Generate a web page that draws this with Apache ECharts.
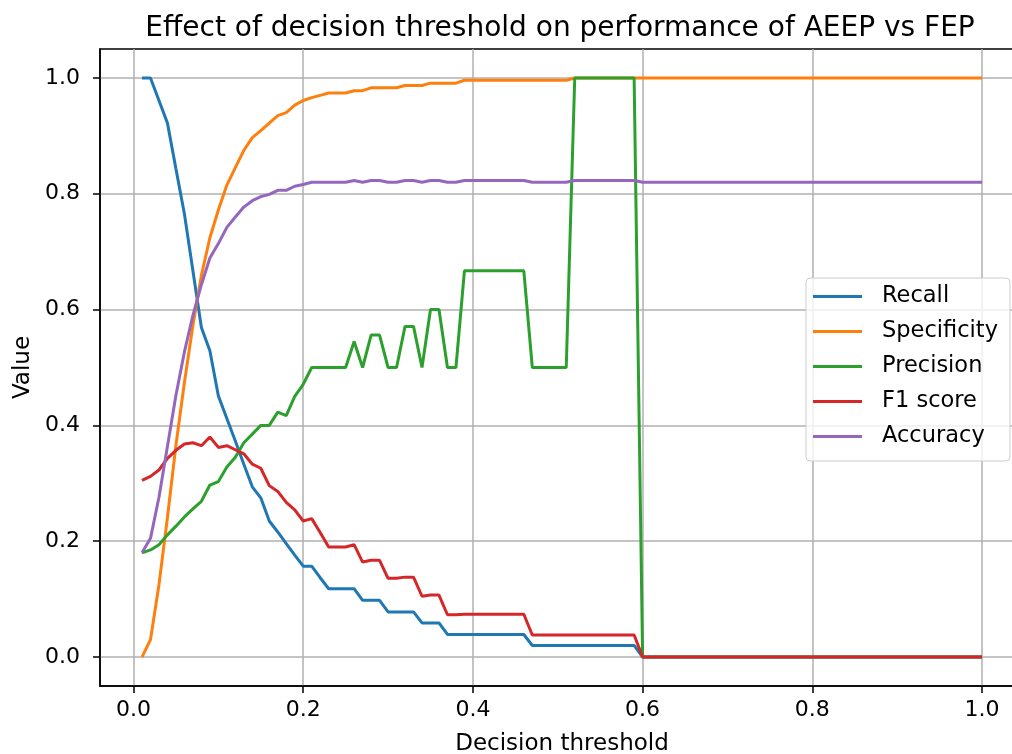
<!DOCTYPE html>
<html>
<head>
<meta charset="utf-8">
<script src="https://cdn.jsdelivr.net/npm/echarts@6/dist/echarts.min.js"></script>
<style>
html,body{margin:0;padding:0;background:#fff;overflow:hidden;}
#chart{width:1012px;height:754px;}
</style>
</head>
<body>
<div id="chart"></div>
<script>
const thresholds = [0.01,0.02,0.03,0.04,0.05,0.06,0.07,0.08,0.09,0.10,
0.11,0.12,0.13,0.14,0.15,0.16,0.17,0.18,0.19,0.20,
0.21,0.22,0.23,0.24,0.25,0.26,0.27,0.28,0.29,0.30,
0.31,0.32,0.33,0.34,0.35,0.36,0.37,0.38,0.39,0.40,
0.41,0.42,0.43,0.44,0.45,0.46,0.47,0.48,0.49,0.50,
0.51,0.52,0.53,0.54,0.55,0.56,0.57,0.58,0.59,0.60,
0.61,0.62,0.63,0.64,0.65,0.66,0.67,0.68,0.69,0.70,
0.71,0.72,0.73,0.74,0.75,0.76,0.77,0.78,0.79,0.80,
0.81,0.82,0.83,0.84,0.85,0.86,0.87,0.88,0.89,0.90,
0.91,0.92,0.93,0.94,0.95,0.96,0.97,0.98,0.99,1.00];

const recall = [1.0,1.0,0.961,0.922,0.843,0.765,0.667,0.569,0.529,0.451,
0.412,0.373,0.333,0.294,0.275,0.235,0.216,0.196,0.176,0.157,
0.157,0.137,0.118,0.118,0.118,0.118,0.098,0.098,0.098,0.078,
0.078,0.078,0.078,0.059,0.059,0.059,0.039,0.039,0.039,0.039,
0.039,0.039,0.039,0.039,0.039,0.039,0.020,0.020,0.020,0.020,
0.020,0.020,0.020,0.020,0.020,0.020,0.020,0.020,0.020,0,
0,0,0,0,0,0,0,0,0,0,
0,0,0,0,0,0,0,0,0,0,
0,0,0,0,0,0,0,0,0,0,
0,0,0,0,0,0,0,0,0,0];

const specificity = [0,0.030,0.125,0.241,0.366,0.474,0.573,0.659,0.724,0.772,
0.815,0.845,0.875,0.897,0.909,0.922,0.935,0.940,0.953,0.961,
0.966,0.970,0.974,0.974,0.974,0.978,0.978,0.983,0.983,0.983,
0.983,0.987,0.987,0.987,0.991,0.991,0.991,0.991,0.996,0.996,
0.996,0.996,0.996,0.996,0.996,0.996,0.996,0.996,0.996,0.996,
0.996,1,1,1,1,1,1,1,1,1,
1,1,1,1,1,1,1,1,1,1,
1,1,1,1,1,1,1,1,1,1,
1,1,1,1,1,1,1,1,1,1,
1,1,1,1,1,1,1,1,1,1];

const precision = [0.180,0.185,0.194,0.211,0.226,0.242,0.256,0.269,0.297,0.303,
0.328,0.345,0.370,0.385,0.400,0.400,0.423,0.417,0.450,0.471,
0.5,0.5,0.5,0.5,0.5,0.545,0.5,0.556,0.556,0.5,
0.5,0.571,0.571,0.5,0.6,0.6,0.5,0.5,0.667,0.667,
0.667,0.667,0.667,0.667,0.667,0.667,0.5,0.5,0.5,0.5,
0.5,1,1,1,1,1,1,1,1,0,
0,0,0,0,0,0,0,0,0,0,
0,0,0,0,0,0,0,0,0,0,
0,0,0,0,0,0,0,0,0,0,
0,0,0,0,0,0,0,0,0,0];

const f1score = [0.305,0.312,0.323,0.343,0.357,0.368,0.370,0.365,0.380,0.362,
0.365,0.358,0.351,0.333,0.326,0.296,0.286,0.267,0.254,0.235,
0.239,0.215,0.190,0.190,0.190,0.194,0.164,0.167,0.167,0.136,
0.136,0.138,0.138,0.105,0.107,0.107,0.073,0.073,0.074,0.074,
0.074,0.074,0.074,0.074,0.074,0.074,0.038,0.038,0.038,0.038,
0.038,0.038,0.038,0.038,0.038,0.038,0.038,0.038,0.038,0,
0,0,0,0,0,0,0,0,0,0,
0,0,0,0,0,0,0,0,0,0,
0,0,0,0,0,0,0,0,0,0,
0,0,0,0,0,0,0,0,0,0];

const accuracy = [0.180,0.205,0.276,0.364,0.452,0.527,0.590,0.643,0.689,0.714,
0.742,0.760,0.777,0.788,0.795,0.799,0.806,0.806,0.813,0.816,
0.820,0.820,0.820,0.820,0.820,0.823,0.820,0.823,0.823,0.820,
0.820,0.823,0.823,0.820,0.823,0.823,0.820,0.820,0.823,0.823,
0.823,0.823,0.823,0.823,0.823,0.823,0.820,0.820,0.820,0.820,
0.820,0.823,0.823,0.823,0.823,0.823,0.823,0.823,0.823,0.820,
0.820,0.820,0.820,0.820,0.820,0.820,0.820,0.820,0.820,0.820,
0.820,0.820,0.820,0.820,0.820,0.820,0.820,0.820,0.820,0.820,
0.820,0.820,0.820,0.820,0.820,0.820,0.820,0.820,0.820,0.820,
0.820,0.820,0.820,0.820,0.820,0.820,0.820,0.820,0.820,0.820];

const seriesNames = ['Recall','Specificity','Precision','F1 score','Accuracy'];
const seriesColors = ['#1f77b4','#ff7f0e','#2ca02c','#d62728','#9467bd'];
const xTicks = [0,0.2,0.4,0.6,0.8,1.0];
const yTicks = [0,0.2,0.4,0.6,0.8,1.0];
const titleText = 'Effect of decision threshold on performance of AEEP vs FEP';
const xName = 'Decision threshold';
const yName = 'Value';

const values = [recall, specificity, precision, f1score, accuracy];
const FONT = 'DejaVu Sans';

const chart = echarts.init(document.getElementById('chart'), null, {renderer:'canvas'});
const option = {
  animation: false,
  backgroundColor: '#fff',
  title: {
    text: titleText,
    left: 560,
    textAlign: 'center',
    top: 15,
    padding: 0,
    textStyle: {fontFamily: FONT, fontSize: 28, fontWeight: 'normal', color: '#000'}
  },
  grid: {
    left: 100, width: 924, top: 49, height: 637,
    outerBoundsMode: 'none',
    containLabel: false,
    show: true, borderColor: '#000', borderWidth: 1.5, backgroundColor: 'transparent'
  },
  legend: {
    orient: 'vertical',
    left: 806, top: 278,
    padding: [7, 12, 13, 7],
    itemGap: 12,
    itemWidth: 49,
    itemHeight: 3,
    icon: 'rect',
    backgroundColor: 'rgba(255,255,255,0.8)',
    borderColor: '#cccccc',
    borderWidth: 1,
    borderRadius: 4,
    textStyle: {fontFamily: FONT, fontSize: 22.5, color: '#000', lineHeight: 22, padding: [0,0,0,15]},
    data: seriesNames
  },
  xAxis: {
    type: 'value',
    min: -0.0395, max: 1.0495,
    name: xName,
    nameLocation: 'middle',
    nameGap: 47,
    nameTextStyle: {fontFamily: FONT, fontSize: 23, color: '#000'},
    axisLine: {show: true, onZero: false, lineStyle: {color: '#000', width: 1.5}},
    axisTick: {show: true, customValues: xTicks, length: 7, lineStyle: {color: '#000', width: 1.5}},
    axisLabel: {customValues: xTicks, margin: 13, fontFamily: FONT, fontSize: 22, color: '#000',
      formatter: v => v.toFixed(1)},
    splitLine: {show: true, lineStyle: {color: '#b0b0b0', width: 1.5}}
  },
  yAxis: {
    type: 'value',
    min: -0.05, max: 1.05,
    name: yName,
    nameLocation: 'middle',
    nameGap: 64,
    nameTextStyle: {fontFamily: FONT, fontSize: 23, color: '#000'},
    axisLine: {show: true, onZero: false, lineStyle: {color: '#000', width: 1.5}},
    axisTick: {show: true, customValues: yTicks, length: 7, lineStyle: {color: '#000', width: 1.5}},
    axisLabel: {customValues: yTicks, margin: 20, fontFamily: FONT, fontSize: 22, color: '#000',
      formatter: v => v.toFixed(1)},
    splitLine: {show: true, lineStyle: {color: '#b0b0b0', width: 1.5}}
  },
  series: seriesNames.map((name, i) => ({
    name: name,
    type: 'line',
    symbol: 'none',
    showSymbol: false,
    color: seriesColors[i],
    lineStyle: {color: seriesColors[i], width: 3},
    data: thresholds.map((t, j) => [t, values[i][j]])
  }))
};
chart.setOption(option);
</script>
</body>
</html>
